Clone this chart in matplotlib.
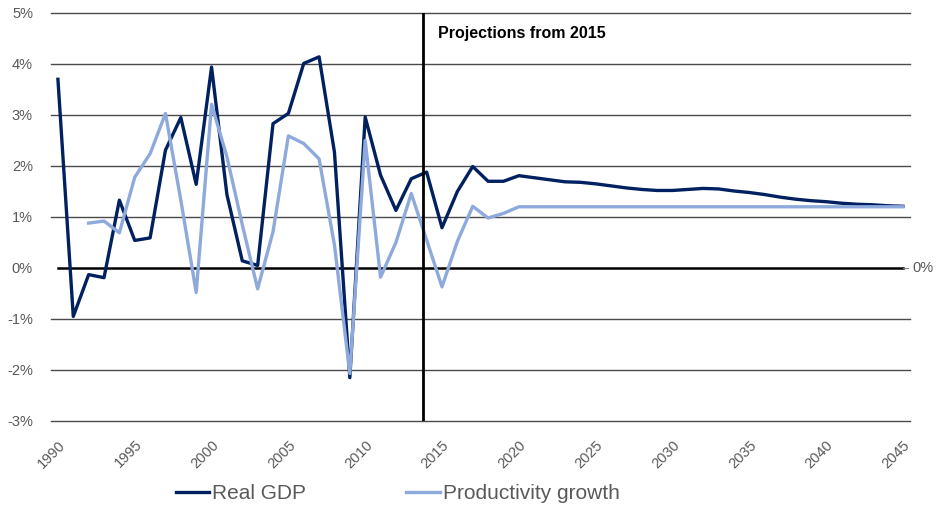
import numpy as np
import matplotlib
matplotlib.use("Agg")
import matplotlib.pyplot as plt

plt.rcParams['font.family'] = ['Liberation Sans', 'DejaVu Sans']

years = np.arange(1990, 2046)

real_gdp = [3.70, -0.95, -0.13, -0.19, 1.33, 0.54, 0.59, 2.31, 2.95, 1.64,
            3.94, 1.44, 0.14, 0.05, 2.83, 3.03, 4.01, 4.14, 2.27, -2.15,
            2.96, 1.82, 1.13, 1.75, 1.88, 0.79, 1.50, 1.99, 1.70, 1.70,
            1.81, 1.77, 1.73, 1.69, 1.68, 1.65, 1.61, 1.57, 1.54, 1.52,
            1.52, 1.54, 1.56, 1.55, 1.51, 1.48, 1.44, 1.39, 1.35, 1.32,
            1.30, 1.27, 1.25, 1.24, 1.22, 1.21]

productivity = [np.nan, np.nan, 0.88, 0.92, 0.69, 1.78, 2.24, 3.03, 1.33, -0.48,
                3.21, 2.18, 0.85, -0.41, 0.71, 2.59, 2.44, 2.14, 0.45, -2.07,
                2.50, -0.18, 0.50, 1.46, 0.55, -0.37, 0.52, 1.21, 0.98, 1.07,
                1.20, 1.20, 1.20, 1.20, 1.20, 1.20, 1.20, 1.20, 1.20, 1.20,
                1.20, 1.20, 1.20, 1.20, 1.20, 1.20, 1.20, 1.20, 1.20, 1.20,
                1.20, 1.20, 1.20, 1.20, 1.20, 1.20]

y_ticks = [-3, -2, -1, 0, 1, 2, 3, 4, 5]
x_ticks = list(range(1990, 2046, 5))
projection_year = 2013.75

fig = plt.figure(figsize=(9.36, 5.09), dpi=100)
ax = fig.add_axes([0.0545, 0.1729, 0.9175, 0.8016])

for v in y_ticks:
    if v != 0:
        ax.axhline(v, color='#4a4a4a', lw=1.0, clip_on=False, zorder=1)

ax.plot(years, real_gdp, color='#002060', lw=2.4, label='Real GDP', zorder=3)
ax.plot(years, productivity, color='#8EA9DB', lw=2.4, label='Productivity growth', zorder=4)

# zero axis line and right-hand label
ax.plot([1990, 2045], [0, 0], color='black', lw=1.8, zorder=2)
ax.plot([2045, 2045.35], [0, 0], color='#808080', lw=0.8, clip_on=False)
ax.text(2045.6, 0, '0%', va='center', ha='left', fontsize=10.5, color='#595959')

ax.axvline(projection_year, color='black', lw=2.0, zorder=5)
ax.text(projection_year + 1.0, 4.6, 'Projections from 2015', fontsize=11.5,
        fontweight='bold', va='center', ha='left', color='black')

ax.set_xlim(1989.55, 2045.45)
ax.set_ylim(-3, 5)
ax.set_yticks(y_ticks)
ax.set_yticklabels([f'{v}%' for v in y_ticks], fontsize=10.5, color='#595959')
ax.set_xticks(x_ticks)
ax.set_xticklabels([str(x) for x in x_ticks], fontsize=10.5, color='#595959',
                   rotation=45, ha='right', rotation_mode='anchor')
ax.tick_params(axis='both', length=0)
ax.tick_params(axis='x', pad=12)
ax.tick_params(axis='y', pad=13)
for s in ax.spines.values():
    s.set_visible(False)

leg = fig.legend(loc='center', bbox_to_anchor=(0.425, 0.03), ncol=2, frameon=False,
                 fontsize=15, handlelength=1.6, handletextpad=0.15, columnspacing=4.8)
for t in leg.get_texts():
    t.set_color('#595959')

fig.savefig('out.png', dpi=100)
